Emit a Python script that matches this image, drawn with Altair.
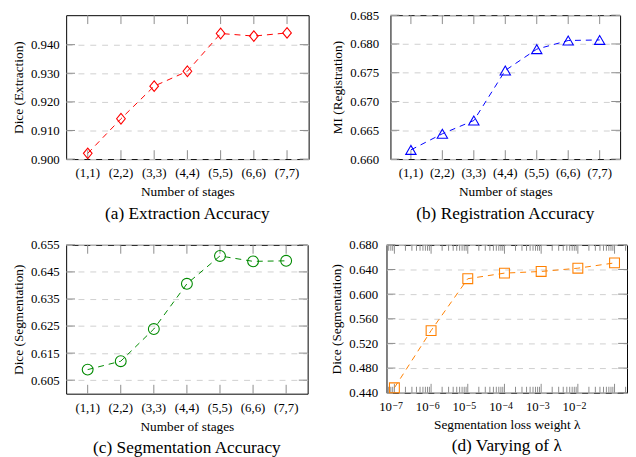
import altair as alt
import pandas as pd

# ---- data ----
stages = ["(1,1)", "(2,2)", "(3,3)", "(4,4)", "(5,5)", "(6,6)", "(7,7)"]
dice_extraction = [0.9020, 0.9141, 0.9255, 0.9307, 0.9439, 0.9430, 0.9441]
mi_registration = [0.6616, 0.6644, 0.6667, 0.6754, 0.6791, 0.6806, 0.6807]
dice_segmentation = [0.6089, 0.6120, 0.6239, 0.6406, 0.6509, 0.6489, 0.6491]
lambdas = [1e-7, 1e-6, 1e-5, 1e-4, 1e-3, 1e-2, 1e-1]
dice_lambda = [0.448, 0.5408, 0.625, 0.6341, 0.6368, 0.6421, 0.6507]

ticks_a = [0.900, 0.910, 0.920, 0.930, 0.940]
ticks_b = [0.660, 0.665, 0.670, 0.675, 0.680, 0.685]
ticks_c = [0.605, 0.615, 0.625, 0.635, 0.645, 0.655]
ticks_d = [0.440, 0.480, 0.520, 0.560, 0.600, 0.640, 0.680]
lambda_labels = [1e-7, 1e-6, 1e-5, 1e-4, 1e-3, 1e-2]
lambda_exponents = ["−7", "−6", "−5", "−4", "−3", "−2"]

FONT = "Liberation Serif"
LABEL_SIZE = 13
TITLE_SIZE = 13.5
CAPTION_SIZE = 17.5
TICK_COLOR = "#8c8c8c"
GRID_COLOR = "#cfcfcf"
TL = 9  # inner tick length (px)


def y_axis(title, ticks, lpad=7):
    return alt.Axis(
        title=title, values=ticks, format=".3f", grid=True, gridDash=[6, 6],
        gridColor=GRID_COLOR, gridWidth=1, ticks=False, domain=False,
        labelPadding=lpad, titlePadding=5,
    )


def caption_title(text):
    return alt.TitleParams(text, orient="bottom", font=FONT, fontSize=CAPTION_SIZE,
                           fontWeight="normal", color="black", offset=7)


def ytick_layers(ticks, Y, w):
    tdf = pd.DataFrame({"v": ticks})
    base = alt.Chart(tdf).mark_rule(color=TICK_COLOR, strokeWidth=1)
    left = base.encode(y=Y, x=alt.value(0), x2=alt.value(TL))
    right = base.encode(y=Y, x=alt.value(w - TL), x2=alt.value(w))
    return [left, right]


def cat_panel(values, ytitle, domain, ticks, color, shape, size, caption, w, h, lpad=7):
    df = pd.DataFrame({"stage": stages, "v": values})
    xsc = alt.Scale(domain=stages, padding=0.3)
    ysc = alt.Scale(domain=domain, nice=False, zero=False)
    xax = alt.Axis(title="Number of stages", labelAngle=0, grid=False, ticks=False,
                   domain=False, labelPadding=8, titlePadding=5)
    X = alt.X("stage:O", scale=xsc, axis=xax)
    Y = alt.Y("v:Q", scale=ysc, axis=y_axis(ytitle, ticks, lpad))

    sdf = pd.DataFrame({"stage": stages})
    trule = alt.Chart(sdf).mark_rule(color=TICK_COLOR, strokeWidth=1)
    top = trule.encode(x=X, y=alt.value(0), y2=alt.value(TL))
    bot = trule.encode(x=X, y=alt.value(h - TL), y2=alt.value(h))

    line = alt.Chart(df).mark_line(color=color, strokeWidth=1, strokeDash=[6, 5]).encode(x=X, y=Y)
    pts = alt.Chart(df).mark_point(shape=shape, filled=False, color=color, size=size,
                                   strokeWidth=1.1, opacity=1).encode(x=X, y=Y)
    layers = ytick_layers(ticks, Y, w) + [top, bot, line, pts]
    return alt.layer(*layers).properties(width=w, height=h, title=caption_title(caption))


def lambda_panel(w, h):
    domain = [0.440, 0.680]
    xdom = [10 ** -7.215, 10 ** -0.66]
    df = pd.DataFrame({"lam": lambdas, "v": dice_lambda})
    xsc = alt.Scale(type="log", domain=xdom, nice=False)
    ysc = alt.Scale(domain=domain, nice=False, zero=False)
    xax = alt.Axis(
        title="Segmentation loss weight λ", values=lambda_labels, grid=False, ticks=False,
        domain=False, labelPadding=8, titlePadding=4, labelExpr="'10'",
        labelAlign="right", labelOffset=-3, labelOverlap=False,
    )
    X = alt.X("lam:Q", scale=xsc, axis=xax)
    Y = alt.Y("v:Q", scale=ysc, axis=y_axis("Dice (Segmentation)", ticks_d, lpad=9))
    majors = pd.DataFrame({"lam": lambdas})
    minors = pd.DataFrame({"lam": [k * 10.0 ** e for e in range(-8, 0) for k in range(2, 10)
                                   if xdom[0] < k * 10.0 ** e < xdom[1]]})
    mj = alt.Chart(majors).mark_rule(color=TICK_COLOR, strokeWidth=1)
    mn = alt.Chart(minors).mark_rule(color=TICK_COLOR, strokeWidth=1)
    tick_layers = [
        mj.encode(x=X, y=alt.value(0), y2=alt.value(TL)),
        mj.encode(x=X, y=alt.value(h - TL), y2=alt.value(h)),
        mn.encode(x=X, y=alt.value(0), y2=alt.value(6)),
        mn.encode(x=X, y=alt.value(h - 6), y2=alt.value(h)),
    ]
    sup_df = pd.DataFrame({"lam": lambda_labels, "sup": lambda_exponents})
    sup = alt.Chart(sup_df).mark_text(
        font=FONT, fontSize=10, align="left", baseline="alphabetic", dx=-2, color="black"
    ).encode(x=X, y=alt.value(h + 17), text="sup:N")
    line = alt.Chart(df).mark_line(color="#ff8000", strokeWidth=1, strokeDash=[6, 5]).encode(x=X, y=Y)
    pts = alt.Chart(df).mark_point(shape="square", filled=False, color="#ff8000", size=100,
                                   strokeWidth=1.1, opacity=1).encode(x=X, y=Y)
    layers = ytick_layers(ticks_d, Y, w) + tick_layers + [line, pts, sup]
    return alt.layer(*layers).properties(width=w, height=h, title=caption_title("(d) Varying of λ"))


diamond = "M0,-1L0.82,0L0,1L-0.82,0Z"
pa = cat_panel(dice_extraction, "Dice (Extraction)", [0.900, 0.9503], ticks_a,
               "#ff0000", diamond, 115, "(a) Extraction Accuracy", 246, 146)
pb = cat_panel(mi_registration, "MI (Registration)", [0.660, 0.685], ticks_b,
               "#0000ff", "triangle-up", 110, "(b) Registration Accuracy", 233, 146, lpad=12)
pc = cat_panel(dice_segmentation, "Dice (Segmentation)", [0.600, 0.655], ticks_c,
               "#008a00", "circle", 121, "(c) Segmentation Accuracy", 245, 151)
pd_ = lambda_panel(244, 150)

chart = alt.vconcat(
    alt.hconcat(pa, pb, spacing=21),
    alt.hconcat(pc, pd_, spacing=21),
    spacing=15,
).properties(
    padding={"left": 3, "top": -3, "right": 0, "bottom": 0}
).configure_view(
    stroke="black", strokeWidth=1
).configure_axis(
    labelFont=FONT, titleFont=FONT, labelFontSize=LABEL_SIZE, titleFontSize=TITLE_SIZE,
    labelColor="black", titleColor="black", titleFontWeight="normal",
)

chart.save("out.html", embed_options={"renderer": "svg", "actions": False})
